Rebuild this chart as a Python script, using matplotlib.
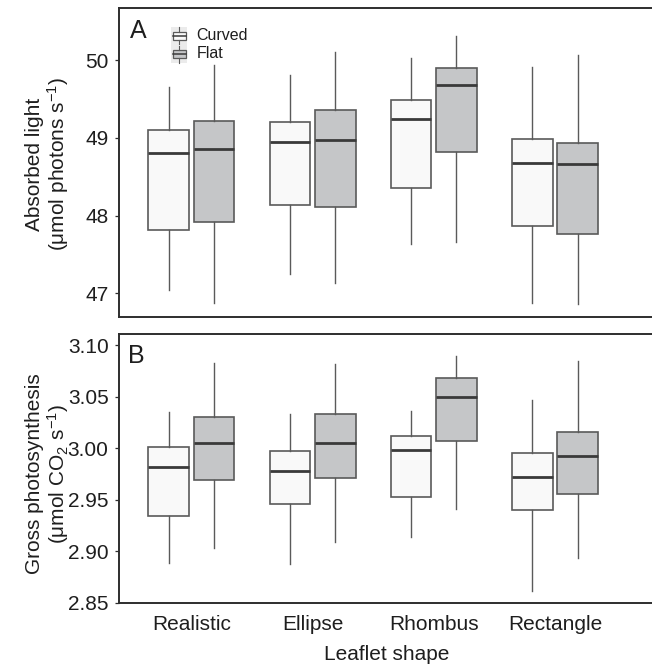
import matplotlib
matplotlib.use("Agg")
import matplotlib.pyplot as plt
from matplotlib.patches import Rectangle
from matplotlib.lines import Line2D

plt.rcParams['font.family'] = ['Liberation Sans', 'DejaVu Sans']
plt.rcParams['mathtext.fontset'] = 'custom'
plt.rcParams['mathtext.rm'] = 'Liberation Sans'
plt.rcParams['mathtext.it'] = 'Liberation Sans:italic'

# ---------------- data ----------------
shapes = ["Realistic", "Ellipse", "Rhombus", "Rectangle"]
treatments = ["Curved", "Flat"]

# Absorbed light (panel A): whisker low, Q1, median, Q3, whisker high
light_curved_lo = [47.04, 47.25, 47.64, 46.87]
light_curved_q1 = [47.82, 48.13, 48.36, 47.86]
light_curved_med = [48.81, 48.94, 49.24, 48.68]
light_curved_q3 = [49.10, 49.20, 49.49, 48.98]
light_curved_hi = [49.65, 49.81, 50.03, 49.91]

light_flat_lo = [46.87, 47.13, 47.66, 46.86]
light_flat_q1 = [47.92, 48.11, 48.82, 47.76]
light_flat_med = [48.85, 48.97, 49.68, 48.66]
light_flat_q3 = [49.21, 49.36, 49.90, 48.93]
light_flat_hi = [49.94, 50.10, 50.31, 50.06]

# Gross photosynthesis (panel B)
photo_curved_lo = [2.889, 2.888, 2.914, 2.862]
photo_curved_q1 = [2.934, 2.946, 2.953, 2.940]
photo_curved_med = [2.982, 2.978, 2.998, 2.972]
photo_curved_q3 = [3.001, 2.997, 3.012, 2.995]
photo_curved_hi = [3.035, 3.033, 3.036, 3.047]

photo_flat_lo = [2.903, 2.909, 2.941, 2.894]
photo_flat_q1 = [2.969, 2.971, 3.007, 2.956]
photo_flat_med = [3.005, 3.005, 3.050, 2.992]
photo_flat_q3 = [3.030, 3.033, 3.068, 3.016]
photo_flat_hi = [3.083, 3.082, 3.089, 3.085]

light_ticks = [47, 48, 49, 50]
photo_ticks = [2.85, 2.90, 2.95, 3.00, 3.05, 3.10]

# ---------------- style ----------------
W, H = 652, 666
fill_colors = {"Curved": "#F9F9F9", "Flat": "#C5C6C8"}
edge_col = "#5A5A5A"
med_col = "#3A3A3A"
text_col = "#1E1E1E"
spine_col = "#2E2E2E"

fig = plt.figure(figsize=(W / 100, H / 100), dpi=100)


def px_axes(l, t, r, b):
    return fig.add_axes([l / W, 1 - b / H, (r - l) / W, (b - t) / H])


def stats(lo, q1, med, q3, hi):
    return [dict(whislo=a, q1=b, med=c, q3=d, whishi=e, fliers=[])
            for a, b, c, d, e in zip(lo, q1, med, q3, hi)]


def draw_panel(ax, curved, flat, ylim, ticks, ticklabels):
    offset = 0.187
    width = 0.336
    for tr, st, sgn in (("Curved", curved, -1), ("Flat", flat, 1)):
        pos = [i + 1 + sgn * offset for i in range(len(shapes))]
        ax.bxp(st, positions=pos, widths=width, showcaps=False,
               showfliers=False, patch_artist=True,
               boxprops=dict(facecolor=fill_colors[tr], edgecolor=edge_col,
                             linewidth=1.2),
               medianprops=dict(color=med_col, linewidth=2.0),
               whiskerprops=dict(color=edge_col, linewidth=1.0))
    ax.set_xlim(0.403, 0.403 + (660 - 119) / 121.2)
    ax.set_ylim(*ylim)
    ax.set_yticks(ticks)
    ax.set_yticklabels(ticklabels)
    for s in ax.spines.values():
        s.set_color(spine_col)
        s.set_linewidth(1.4)
    ax.tick_params(axis='y', length=3, width=0.9, color=spine_col,
                   labelsize=15, labelcolor=text_col, pad=4.5)


# Panel A
axA = px_axes(119, 8, 660, 317)
draw_panel(axA,
           stats(light_curved_lo, light_curved_q1, light_curved_med,
                 light_curved_q3, light_curved_hi),
           stats(light_flat_lo, light_flat_q1, light_flat_med,
                 light_flat_q3, light_flat_hi),
           (46.695, 50.67), light_ticks, [str(t) for t in light_ticks])
axA.set_xticks([1, 2, 3, 4])
axA.tick_params(axis='x', length=0, labelbottom=False)

# Panel B
axB = px_axes(119, 334, 660, 603)
draw_panel(axB,
           stats(photo_curved_lo, photo_curved_q1, photo_curved_med,
                 photo_curved_q3, photo_curved_hi),
           stats(photo_flat_lo, photo_flat_q1, photo_flat_med,
                 photo_flat_q3, photo_flat_hi),
           (2.85, 3.1107), photo_ticks, [f"{t:.2f}" for t in photo_ticks])
axB.set_xticks([1, 2, 3, 4])
axB.set_xticklabels(shapes)
axB.tick_params(axis='x', length=0, labelsize=15, labelcolor=text_col, pad=9)

# Panel letters
fig.text(138 / W, 1 - 31.5 / H, "A", fontsize=18, color=text_col,
         ha='center', va='center')
fig.text(136 / W, 1 - 356 / H, "B", fontsize=18, color=text_col,
         ha='center', va='center')

# Axis labels
fig.text(48 / W, 1 - 164 / H, "Absorbed light\n(\u03bcmol photons s$^{-1}$)",
         rotation=90, ha='center', va='center', multialignment='center',
         fontsize=15, color=text_col, linespacing=1.1)
fig.text(48 / W, 1 - 474 / H, "Gross photosynthesis\n(\u03bcmol CO$_2$ s$^{-1}$)",
         rotation=90, ha='center', va='center', multialignment='center',
         fontsize=15, color=text_col, linespacing=1.1)
fig.text(387 / W, 1 - 655 / H, "Leaflet shape", ha='center', va='center',
         fontsize=15, color=text_col)

# Legend (drawn in pixel coordinates of the figure)
def fx(x):
    return x / W


def fy(y):
    return 1 - y / H


for tr, top in (("Curved", 26.7), ("Flat", 45.0)):
    key_h = 18.0
    fig.add_artist(Rectangle((fx(170.7), fy(top + key_h)), (187.3 - 170.7) / W,
                             key_h / H, facecolor="#EBEBEB", edgecolor='none',
                             transform=fig.transFigure))
    bt, bb = top + 5, top + 13.3
    fig.add_artist(Rectangle((fx(172.7), fy(bb)), (185.7 - 172.7) / W,
                             (bb - bt) / H, facecolor=fill_colors[tr],
                             edgecolor=edge_col, linewidth=0.9,
                             transform=fig.transFigure))
    fig.add_artist(Line2D([fx(172.7), fx(185.7)], [fy(top + 9.2)] * 2,
                          color=med_col, linewidth=1.1,
                          transform=fig.transFigure))
    fig.add_artist(Line2D([fx(179.2)] * 2, [fy(top + 0.5), fy(bt)],
                          color=edge_col, linewidth=0.8,
                          transform=fig.transFigure))
    fig.add_artist(Line2D([fx(179.2)] * 2, [fy(bb), fy(top + key_h - 0.5)],
                          color=edge_col, linewidth=0.8,
                          transform=fig.transFigure))
    fig.text(fx(196.7), fy(top + 9), tr, fontsize=11.5, color=text_col,
             ha='left', va='center')

fig.savefig("out.png", dpi=100)
